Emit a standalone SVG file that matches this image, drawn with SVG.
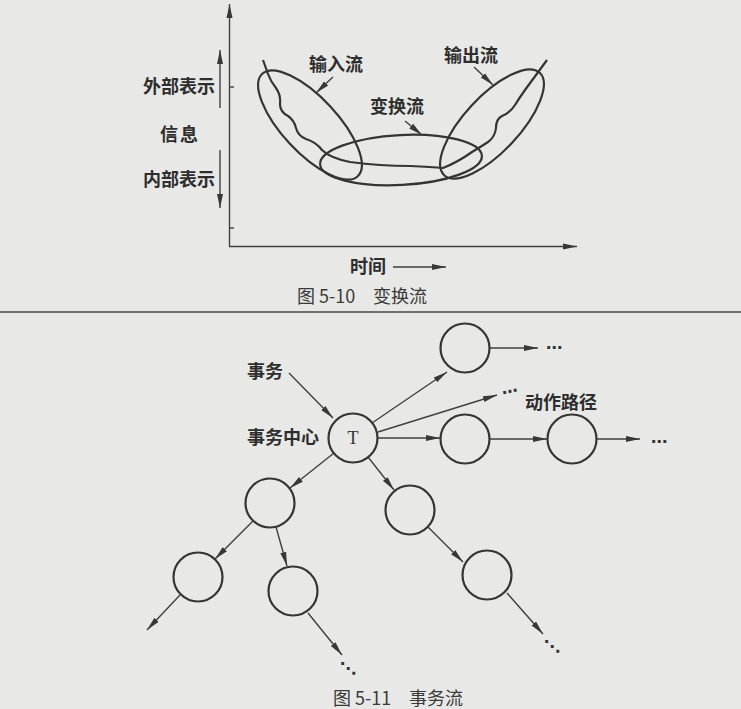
<svg xmlns="http://www.w3.org/2000/svg" width="741" height="709" viewBox="0 0 741 709">
<style>
.bg{fill:#e8e8e6}
.ln{fill:none;stroke:#353535;stroke-width:2.2}
.ar{fill:none;stroke:#404040;stroke-width:1.4}
.nd{fill:none;stroke:#353535;stroke-width:2.2}
.lb{font-family:"Noto Sans CJK SC","Noto Sans",sans-serif;font-size:18px;font-weight:700;fill:#2e2e2e}
.cap{font-family:"Noto Sans CJK SC","Noto Sans",sans-serif;font-size:18px;fill:#3a3a3a}
.dots{font-family:"DejaVu Sans",sans-serif;font-size:16px;font-weight:700;fill:#333}
.t{font-family:"Liberation Serif",serif;font-size:18px;fill:#333}
</style>
<defs>
<marker id="ah" markerUnits="userSpaceOnUse" markerWidth="15" markerHeight="8" refX="14" refY="4" orient="auto">
<path d="M0,1 L14,4 L0,7 z" fill="#383838"/>
</marker>
</defs>
<rect class="bg" x="0" y="0" width="741" height="709"/>
<line x1="0" y1="312" x2="741" y2="312" stroke="#707070" stroke-width="2"/>

<g id="fig1-axes">
<line class="ar" x1="229.5" y1="247" x2="229.5" y2="4" marker-end="url(#ah)"/>
<line class="ar" x1="229" y1="246.5" x2="577" y2="246.5" marker-end="url(#ah)"/>
<line class="ar" x1="229.5" y1="87" x2="234" y2="87"/>
<line class="ar" x1="229.5" y1="228" x2="234" y2="228"/>
<line class="ar" x1="220" y1="108" x2="220" y2="50" marker-end="url(#ah)"/>
<line class="ar" x1="220" y1="150" x2="220" y2="208" marker-end="url(#ah)"/>
<line class="ar" x1="393" y1="267" x2="446" y2="267" marker-end="url(#ah)"/>
</g>

<g id="fig1-labels">
<text class="lb" x="179" y="93" text-anchor="middle">外部表示</text>
<text class="lb" x="180" y="141" text-anchor="middle" letter-spacing="2">信息</text>
<text class="lb" x="179" y="186" text-anchor="middle">内部表示</text>
<text class="lb" x="368" y="273" text-anchor="middle">时间</text>
<text class="lb" x="336" y="71" text-anchor="middle">输入流</text>
<text class="lb" x="471" y="62" text-anchor="middle">输出流</text>
<text class="lb" x="397" y="113" text-anchor="middle">变换流</text>
<text class="cap" x="362" y="303" text-anchor="middle">图 5-10　变换流</text>
</g>

<g id="fig1-flows">
<ellipse id="input-flow" class="ln" cx="310" cy="125" rx="70" ry="27.5" transform="rotate(47 310 125)"/>
<ellipse id="output-flow" class="ln" cx="492" cy="124" rx="70" ry="27.5" transform="rotate(-47 492 124)"/>
<ellipse id="transform-flow" class="ln" cx="401" cy="160" rx="81" ry="25" transform="rotate(-3 401 160)"/>
<path id="info-path" class="ln" d="M263,60 L268,74 Q271,82 276,88 Q281,95 280,104 Q280,112 288,116 Q294,120 296,128 Q298,136 306,139 Q316,142 322,150 Q330,158 350,162 Q380,166 410,166 Q432,167 443,168 Q458,162 472,152 Q482,146 488,142 Q495,137 496,128 Q496,119 502,116 Q510,113 515,105 Q520,97 525,90 L547,60"/>
<line class="ar" x1="333" y1="77" x2="316" y2="93" marker-end="url(#ah)"/>
<line class="ar" x1="474" y1="67" x2="493" y2="85" marker-end="url(#ah)"/>
<line class="ar" x1="405" y1="121" x2="422" y2="135" marker-end="url(#ah)"/>
</g>

<g id="connectors">
<line class="ar" x1="289" y1="373" x2="333" y2="418" marker-end="url(#ah)"/>
<line class="ar" x1="372" y1="423" x2="447" y2="372" marker-end="url(#ah)"/>
<line class="ar" x1="378" y1="432" x2="497" y2="395" marker-end="url(#ah)"/>
<line class="ar" x1="378" y1="438" x2="440" y2="438" marker-end="url(#ah)"/>
<line class="ar" x1="490" y1="348" x2="538" y2="348" marker-end="url(#ah)"/>
<line class="ar" x1="490" y1="439" x2="547" y2="439" marker-end="url(#ah)"/>
<line class="ar" x1="597" y1="439" x2="640" y2="439" marker-end="url(#ah)"/>
<line class="ar" x1="334" y1="453" x2="290" y2="488" marker-end="url(#ah)"/>
<line class="ar" x1="368" y1="457" x2="394" y2="490" marker-end="url(#ah)"/>
<line class="ar" x1="253" y1="521" x2="215" y2="559" marker-end="url(#ah)"/>
<line class="ar" x1="276" y1="527" x2="287" y2="566" marker-end="url(#ah)"/>
<line class="ar" x1="428" y1="527" x2="463" y2="562" marker-end="url(#ah)"/>
<line class="ar" x1="180" y1="595" x2="147" y2="630" marker-end="url(#ah)"/>
<line class="ar" x1="308" y1="613" x2="342" y2="655" marker-end="url(#ah)"/>
<line class="ar" x1="507" y1="593" x2="543" y2="634" marker-end="url(#ah)"/>
</g>

<g id="fig2-labels">
<text class="lb" x="247" y="378">事务</text>
<text class="lb" x="247" y="444">事务中心</text>
<text class="lb" x="525" y="409">动作路径</text>
<text class="dots" x="546" y="353">⋯</text>
<text class="dots" x="651" y="447">⋯</text>
<text class="dots" x="502" y="397" transform="rotate(-12 510 392)">⋯</text>
<text class="dots" x="340" y="674">⋱</text>
<text class="dots" x="544" y="652">⋱</text>
<text class="cap" x="398" y="705" text-anchor="middle">图 5-11　事务流</text>
</g>

<g id="node-T"><circle class="nd" cx="353" cy="438" r="24.5"/><text class="t" x="353" y="444" text-anchor="middle">T</text></g>
<g id="node-top"><circle class="nd" cx="465" cy="348" r="24.5"/></g>
<g id="node-mid1"><circle class="nd" cx="465" cy="439" r="24.5"/></g>
<g id="node-mid2"><circle class="nd" cx="572" cy="439" r="24.5"/></g>
<g id="node-L1"><circle class="nd" cx="270" cy="503" r="24.5"/></g>
<g id="node-R1"><circle class="nd" cx="410" cy="510" r="24.5"/></g>
<g id="node-LL2"><circle class="nd" cx="198" cy="577" r="24.5"/></g>
<g id="node-LR2"><circle class="nd" cx="293" cy="591" r="24.5"/></g>
<g id="node-RR2"><circle class="nd" cx="487" cy="575" r="24.5"/></g>
</svg>
